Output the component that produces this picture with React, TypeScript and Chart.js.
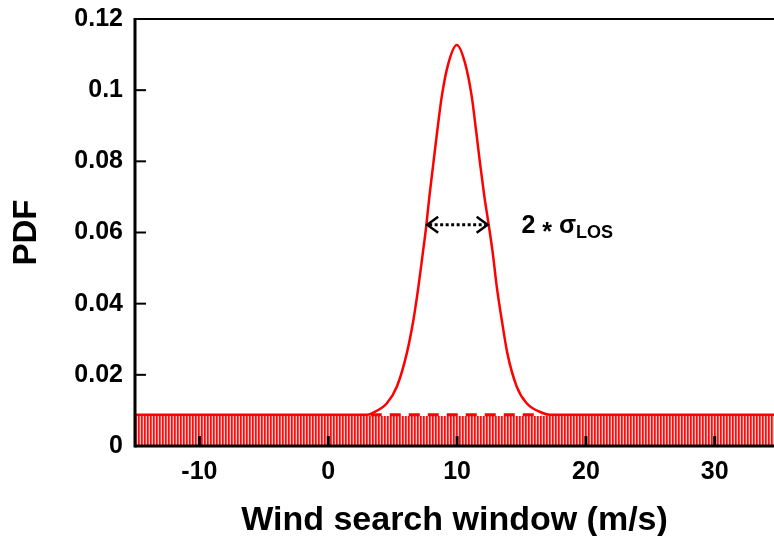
import React, { useEffect, useRef } from 'react';
import { Chart, registerables } from 'chart.js';
Chart.register(...registerables);

// ---- data ----
const xTicks = [-10, 0, 10, 20, 30];
const yTicks = [0, 0.02, 0.04, 0.06, 0.08, 0.1, 0.12];
const xMin = -15;
const xMax = 34.6;
const yMin = 0;
const yMax = 0.12;
const baselineLevel = 0.0088;
const hatchLevel = 0.0084;
const baselineX = [-15, 35];
const windX = [-15, 3.0, 3.39, 4.55, 5.33, 6.10, 6.61, 7.00, 7.34, 7.60, 7.85, 8.16, 8.47, 8.81, 9.33, 9.98,
  10.62, 11.14, 11.47, 11.78, 12.12, 12.48, 12.77, 13.08, 13.47, 13.90, 14.63, 15.40, 16.69, 17.2, 35];
const pdfY = [0.0088, 0.0088, 0.0092, 0.0120, 0.0167, 0.0261, 0.0354, 0.0448, 0.0542, 0.0616, 0.0701, 0.0795, 0.0888, 0.0982, 0.1076, 0.1127,
  0.1076, 0.0982, 0.0888, 0.0795, 0.0701, 0.0616, 0.0542, 0.0448, 0.0354, 0.0261, 0.0167, 0.0120, 0.0092, 0.0088, 0.0088];
const dashedX = [3.3, 16.6];
const arrowX = [7.6, 12.45];
const arrowY = 0.0622;
const labelX = 15.0;
const labelY = 0.0622;
const xTitle = 'Wind search window (m/s)';
const yTitle = 'PDF';

const FONT = '"Liberation Sans", Arial, Helvetica, sans-serif';

export default function App() {
  const ref = useRef<HTMLCanvasElement>(null);
  useEffect(() => {
    document.body.style.margin = '0';
    const canvas = ref.current!;
    const pc = document.createElement('canvas');
    pc.width = 3;
    pc.height = 4;
    const p = pc.getContext('2d')!;
    p.fillStyle = 'rgb(255,10,10)';
    p.fillRect(0, 0, 1, 4);
    p.fillStyle = 'rgb(255,70,70)';
    p.fillRect(1, 0, 1, 4);
    p.fillStyle = 'rgb(255,200,200)';
    p.fillRect(2, 0, 1, 4);
    const pattern = canvas.getContext('2d')!.createPattern(pc, 'repeat')!;

    const axesPlugin = {
      id: 'axesPlugin',
      afterDraw(chart: any) {
        const { ctx, chartArea: a, scales } = chart;
        const xs = scales.x;
        const ys = scales.y;
        ctx.save();
        ctx.strokeStyle = '#000';
        ctx.lineCap = 'butt';
        // top border
        ctx.lineWidth = 2;
        ctx.beginPath();
        ctx.moveTo(a.left, a.top);
        ctx.lineTo(a.right, a.top);
        ctx.stroke();
        // left axis
        ctx.lineWidth = 3;
        ctx.beginPath();
        ctx.moveTo(a.left, a.top - 1);
        ctx.lineTo(a.left, a.bottom + 1.5);
        ctx.stroke();
        // bottom axis
        ctx.beginPath();
        ctx.moveTo(a.left, a.bottom);
        ctx.lineTo(a.right, a.bottom);
        ctx.stroke();
        // y ticks (inward)
        ctx.lineWidth = 2;
        yTicks.forEach((v) => {
          const py = ys.getPixelForValue(v);
          if (v === yMin || v === yMax) return;
          ctx.beginPath();
          ctx.moveTo(a.left, py);
          ctx.lineTo(a.left + 11, py);
          ctx.stroke();
        });
        // x ticks (inward)
        ctx.lineWidth = 3;
        xTicks.forEach((v) => {
          const px = xs.getPixelForValue(v);
          ctx.beginPath();
          ctx.moveTo(px, a.bottom);
          ctx.lineTo(px, a.bottom - 10);
          ctx.stroke();
        });
        // arrow annotation
        const x1 = xs.getPixelForValue(arrowX[0]);
        const x2 = xs.getPixelForValue(arrowX[1]);
        const ay = ys.getPixelForValue(arrowY);
        ctx.lineWidth = 3;
        ctx.setLineDash([3, 2.5]);
        ctx.beginPath();
        ctx.moveTo(x1 + 3, ay);
        ctx.lineTo(x2 - 3, ay);
        ctx.stroke();
        ctx.setLineDash([]);
        ctx.lineWidth = 2.5;
        ctx.beginPath();
        ctx.moveTo(x1 + 12, ay - 8);
        ctx.lineTo(x1 + 1, ay);
        ctx.lineTo(x1 + 12, ay + 8);
        ctx.moveTo(x2 - 12, ay - 8);
        ctx.lineTo(x2 - 1, ay);
        ctx.lineTo(x2 - 12, ay + 8);
        ctx.stroke();
        // label 2 * sigma_LOS
        const lx = xs.getPixelForValue(labelX);
        const ly = ys.getPixelForValue(labelY);
        ctx.fillStyle = '#000';
        ctx.textBaseline = 'alphabetic';
        ctx.textAlign = 'left';
        ctx.font = `bold 25px ${FONT}`;
        const base = ly + 8;
        let cx = lx;
        ctx.fillText('2', cx, base);
        cx += ctx.measureText('2 ').width;
        ctx.fillText('*', cx, base + 7);
        cx += ctx.measureText('* ').width;
        ctx.fillText('σ', cx, base);
        cx += ctx.measureText('σ').width;
        ctx.font = `bold 18px ${FONT}`;
        ctx.fillText('LOS', cx, base + 5);
        ctx.restore();
      },
    };

    const chart = new Chart(canvas, {
      type: 'line',
      data: {
        datasets: [
          {
            label: 'uniform',
            data: baselineX.map((x) => ({ x, y: hatchLevel })),
            borderWidth: 0,
            borderColor: 'rgba(0,0,0,0)',
            backgroundColor: pattern as any,
            fill: 'origin',
            pointRadius: 0,
            order: 3,
          },
          {
            label: 'dashed',
            data: dashedX.map((x) => ({ x, y: baselineLevel })),
            borderWidth: 3,
            borderColor: '#ff0000',
            borderDash: [11, 8],
            fill: false,
            pointRadius: 0,
            order: 2,
          },
          {
            label: 'pdf',
            data: windX.map((x, i) => ({ x, y: pdfY[i] })),
            borderWidth: 2.5,
            borderColor: '#ff0000',
            fill: false,
            pointRadius: 0,
            cubicInterpolationMode: 'monotone',
            order: 1,
          },
        ],
      },
      options: {
        animation: false,
        responsive: false,
        layout: { padding: { top: 19, left: 0, right: 0, bottom: 0 } },
        plugins: { legend: { display: false }, tooltip: { enabled: false } },
        scales: {
          x: {
            type: 'linear',
            min: xMin,
            max: xMax,
            grid: { display: false },
            border: { display: false },
            afterBuildTicks: (s: any) => {
              s.ticks = xTicks.map((v) => ({ value: v }));
            },
            afterFit: (s: any) => {
              s.height = 90;
            },
            ticks: {
              color: '#000',
              font: { family: FONT, size: 25, weight: 'bold' },
              padding: 3,
              maxRotation: 0,
              autoSkip: false,
              callback: (v: any) => String(v),
            },
            title: {
              display: true,
              text: xTitle,
              color: '#000',
              font: { family: FONT, size: 34, weight: 'bold', lineHeight: 1 },
              padding: { top: 0, bottom: -2 },
            },
          },
          y: {
            type: 'linear',
            min: yMin,
            max: yMax,
            grid: { display: false },
            border: { display: false },
            afterBuildTicks: (s: any) => {
              s.ticks = yTicks.map((v) => ({ value: v }));
            },
            afterFit: (s: any) => {
              s.width = 135;
            },
            ticks: {
              color: '#000',
              font: { family: FONT, size: 25, weight: 'bold' },
              padding: 4,
              autoSkip: false,
              callback: (v: any) => String(v),
            },
            title: {
              display: true,
              text: yTitle,
              color: '#000',
              font: { family: FONT, size: 33, weight: 'bold', lineHeight: 1 },
              padding: { top: 10, bottom: 0 },
            },
          },
        },
      },
      plugins: [axesPlugin],
    } as any);
    return () => chart.destroy();
  }, []);
  return (
    <div style={{ width: 774, height: 536 }}>
      <canvas ref={ref} width={774} height={536} style={{ display: 'block' }} />
    </div>
  );
}
